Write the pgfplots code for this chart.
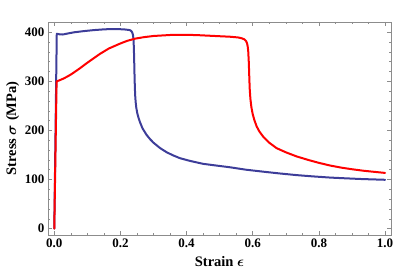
\documentclass[border=0pt]{standalone}
\usepackage{pgfplots}
\pgfplotsset{compat=1.18}
\usepackage{bm}
\usepackage{fontspec}
\setmainfont{Liberation Serif}
\definecolor{mblue}{RGB}{61,61,153}
\definecolor{mred}{RGB}{255,0,0}
\definecolor{framegray}{RGB}{140,140,140}
\begin{document}
\begin{tikzpicture}
\begin{axis}[
  scale only axis,
  width=343pt, height=213pt,
  xmin=-0.019, xmax=1.018,
  ymin=-13, ymax=421,
  xtick={0,0.2,0.4,0.6,0.8,1.0},
  ytick={0,100,200,300,400},
  minor x tick num=3,
  minor y tick num=4,
  tick align=inside,
  major tick length=4pt,
  minor tick length=2pt,
  axis line style={framegray, line width=0.8pt},
  tick style={framegray, line width=0.6pt},
  every tick label/.append style={font=\fontsize{13}{15}\selectfont\bfseries},
  /pgf/number format/assume math mode=true,
  xticklabel style={/pgf/number format/.cd, fixed, fixed zerofill, precision=1},
  yticklabel style={/pgf/number format/.cd, fixed, precision=0},
  xlabel={\textbf{Strain $\bm{\epsilon}$}},
  ylabel={\textbf{Stress $\bm{\sigma}$ (MPa)}},
  label style={font=\fontsize{14.5}{16}\selectfont},
  xlabel style={yshift=-2pt},
  ylabel style={yshift=-1pt},
  every axis plot/.append style={line join=round, line cap=round},
]
\addplot[mblue, line width=2pt] coordinates {
(0,0) (0.0075,397) (0.015,396) (0.026,395.5) (0.04,397.5) (0.06,400) (0.09,402.5)
(0.12,404.5) (0.15,406) (0.168,406.5) (0.19,406.5) (0.21,406) (0.223,405)
(0.228,404.5) (0.231,403.5) (0.234,401.5) (0.236,399) (0.238,394) (0.2395,385) (0.2405,370)
(0.2415,345) (0.2425,315) (0.2435,290) (0.2445,272) (0.246,258) (0.248,246) (0.251,235) (0.255,225)
(0.259,217) (0.267,204) (0.279,191) (0.29,182) (0.30,175) (0.32,164)
(0.34,155.5) (0.36,149) (0.38,143.5) (0.41,138) (0.45,132) (0.49,128.5)
(0.531,125) (0.58,120) (0.632,116) (0.68,112.5) (0.733,109) (0.78,106.5)
(0.834,104) (0.88,102.5) (0.93,101) (1.0,99.5)
};
\addplot[mred, line width=2pt] coordinates {
(0,0) (0.007,300) (0.015,302) (0.027,305.5) (0.04,310) (0.05,314) (0.06,318.5) (0.075,325.5)
(0.088,332) (0.10,338) (0.12,347.5) (0.138,356) (0.165,367) (0.199,377) (0.22,382.5)
(0.244,387) (0.27,390) (0.30,392.5) (0.35,394.5) (0.40,395) (0.44,394)
(0.47,393) (0.50,392) (0.531,391) (0.556,389.5) (0.568,387.5) (0.575,385.5) (0.580,382)
(0.583,377) (0.585,370) (0.5865,360) (0.588,340) (0.589,320) (0.590,300) (0.591,283)
(0.593,264) (0.596,247) (0.600,233) (0.605,221) (0.612,208) (0.62,198)
(0.632,187) (0.65,175) (0.672,164) (0.70,155.5) (0.733,147) (0.77,139.5)
(0.80,134) (0.834,128.5) (0.87,124) (0.90,121) (0.934,118) (0.97,115.5)
(1.0,113.5)
};
\end{axis}
\pgfresetboundingbox
\path[use as bounding box] ([xshift=-48pt,yshift=-43pt]current axis.south west) rectangle ([xshift=24pt,yshift=22pt]current axis.north east);
\end{tikzpicture}
\end{document}
